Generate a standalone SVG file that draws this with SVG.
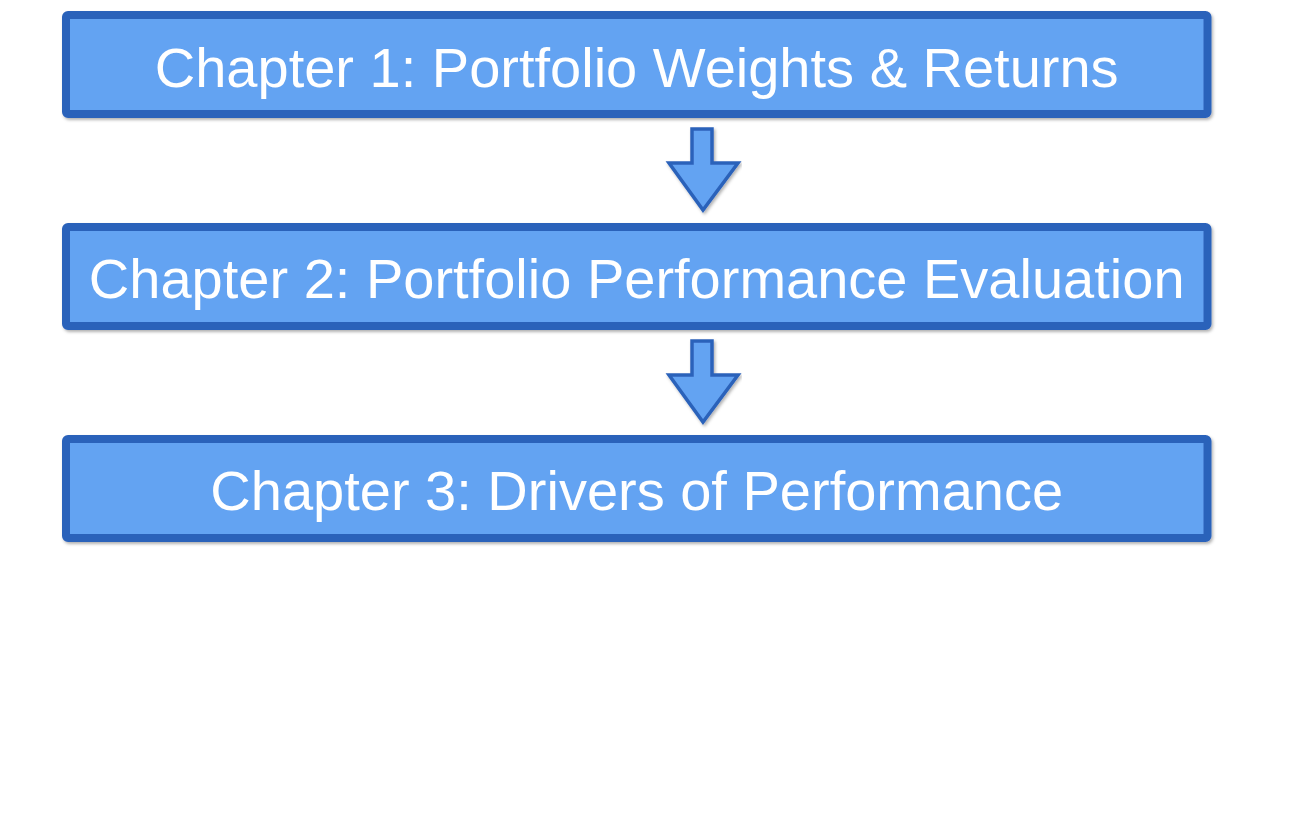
<svg xmlns="http://www.w3.org/2000/svg" width="1300" height="830" viewBox="0 0 1300 830">
<style>
.box{fill:#64A3F2;stroke:#2C62BA;stroke-width:8;filter:url(#sh)}
.arr{fill:#64A3F2;stroke:#2C62BA;stroke-width:3.5;stroke-linejoin:miter;filter:url(#sh)}
.t{font-family:"Liberation Sans",Arial,Helvetica,sans-serif;font-size:56px;fill:#FFFFFF;text-anchor:middle}
</style>
<defs>
<filter id="sh" x="-5%" y="-20%" width="110%" height="140%">
<feDropShadow dx="1.5" dy="2" stdDeviation="1.5" flood-color="#000" flood-opacity="0.3"/>
</filter>
</defs>
<rect width="1300" height="830" fill="#FFFFFF"/>
<g id="connectors">
<polygon class="arr" points="692,129 712,129 712,163 738,163 703,210 669,163 692,163"/>
<polygon class="arr" points="692,341 712,341 712,375 738,375 703,422 669,375 692,375"/>
</g>
<g id="node1">
<rect class="box" x="66" y="15" width="1141.5" height="99" rx="2"/>
<text class="t" x="636.7" y="87">Chapter 1: Portfolio Weights &amp; Returns</text>
</g>
<g id="node2">
<rect class="box" x="66" y="227" width="1141.5" height="99" rx="2"/>
<text class="t" x="636.7" y="298">Chapter 2: Portfolio Performance Evaluation</text>
</g>
<g id="node3">
<rect class="box" x="66" y="439" width="1141.5" height="99" rx="2"/>
<text class="t" x="636.7" y="510">Chapter 3: Drivers of Performance</text>
</g>
</svg>
